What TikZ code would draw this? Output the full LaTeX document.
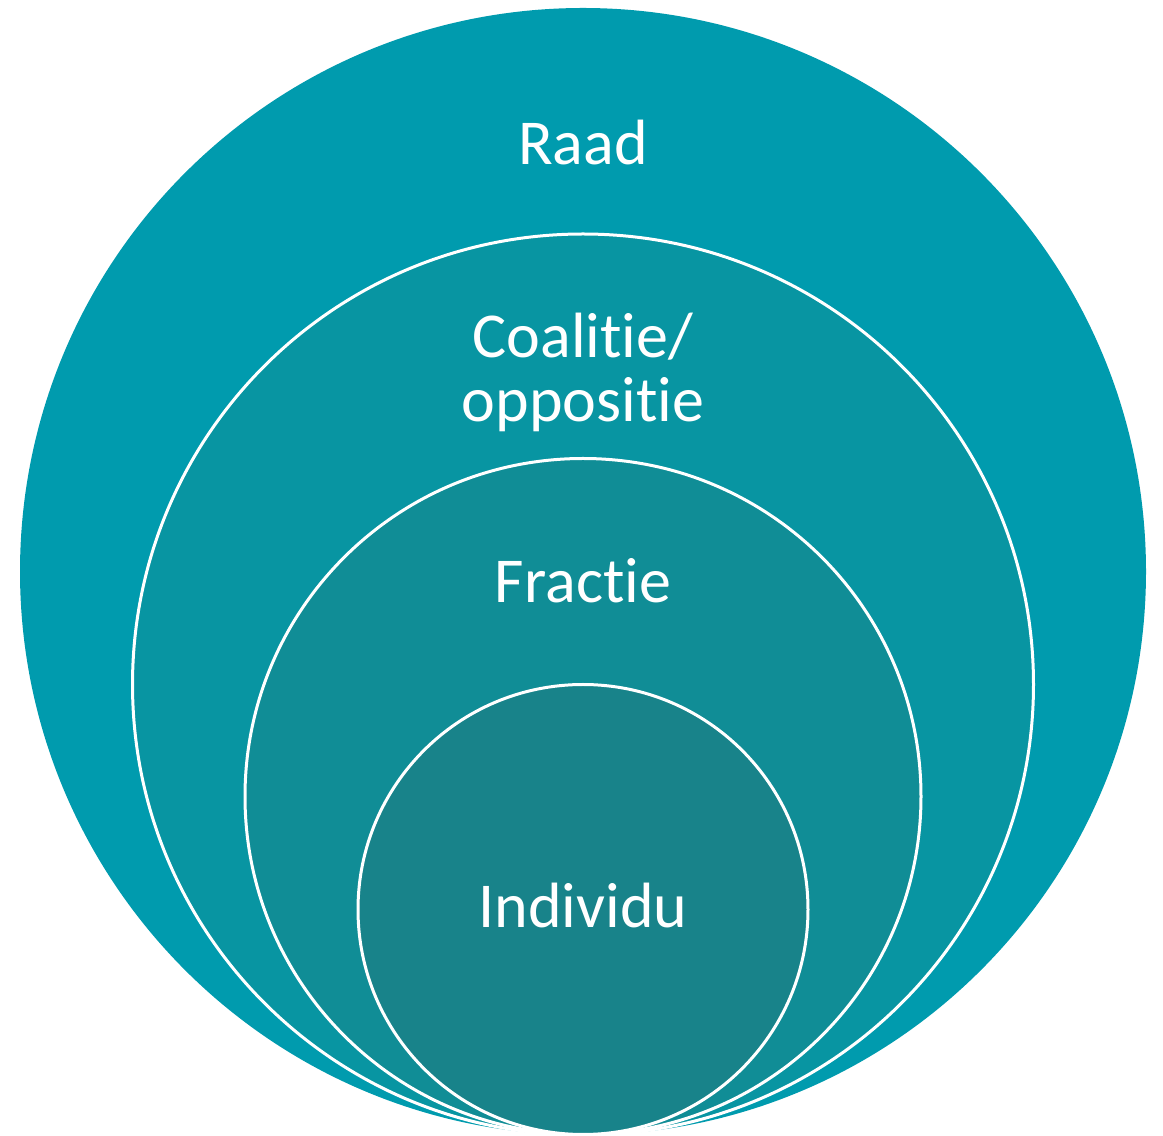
\documentclass[tikz,border=0pt]{standalone}
\usepackage{fontspec}
\setmainfont{Carlito}[Ligatures={NoCommon}]
\definecolor{cA}{RGB}{0,155,174}
\definecolor{cB}{RGB}{8,149,162}
\definecolor{cC}{RGB}{16,141,150}
\definecolor{cD}{RGB}{24,131,138}
\begin{document}
\begin{tikzpicture}[x=1pt,y=1pt,
  lbl/.style={text=white, font=\fontsize{64}{66}\selectfont, anchor=base, inner sep=0pt},
  ring/.style={draw=white, line width=3pt}]
\useasboundingbox (0,0) rectangle (1163,1136);
\fill[cA] (583,564.5) ellipse [x radius=563, y radius=563.5];
\path[ring, fill=cB] (583,451.5) ellipse [x radius=450.5, y radius=450.5];
\path[ring, fill=cC] (583,339.5) ellipse [x radius=338, y radius=338];
\path[ring, fill=cD] (583,226.5) ellipse [x radius=225, y radius=225];
\node[lbl] (raad) at (583,971) {Raad};
\node[lbl] (coal) at (583,778) {Coalitie/};
\node[lbl] (oppo) at (583,714) {oppositie};
\node[lbl] (frac) at (583,533) {Fractie};
\node[lbl] (indi) at (583,208) {Individu};
\end{tikzpicture}
\end{document}
